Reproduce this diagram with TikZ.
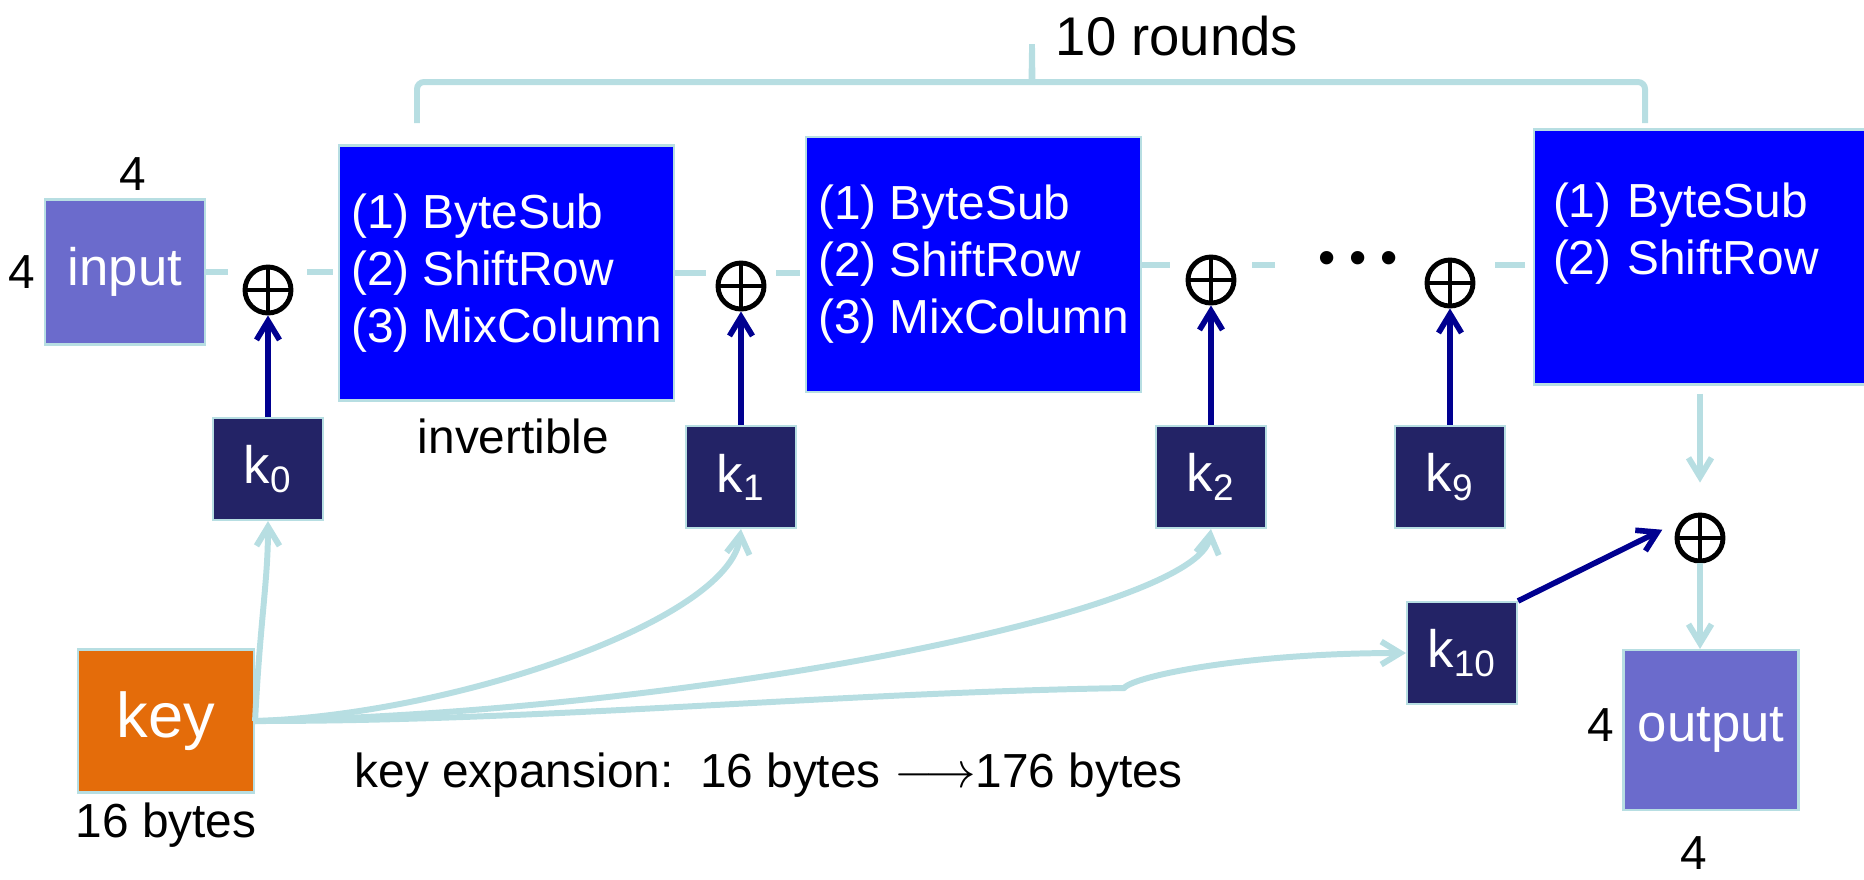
\documentclass[tikz,border=0pt]{standalone}
\usepackage{fontspec}
\setmainfont{Liberation Sans}
\usepackage{tikz}
\usetikzlibrary{arrows.meta,calc,positioning}
\definecolor{RoundBlue}{HTML}{0000FF}
\definecolor{KeyNavy}{HTML}{232366}
\definecolor{State}{HTML}{6B6BCC}
\definecolor{KeyOrange}{HTML}{E46C0A}
\definecolor{Pale}{HTML}{B7DEE2}
\definecolor{Ink}{HTML}{000090}

\begin{document}
\begin{tikzpicture}[
    roundbox/.style={fill=RoundBlue, draw=Pale, line width=0.6pt, text=white, align=left, minimum width=3.35cm, minimum height=2.55cm, font=\fontsize{13.6}{16.2}\selectfont},
    keybox/.style={fill=KeyNavy, draw=Pale, line width=0.6pt, text=white, minimum width=1.1cm, minimum height=1.02cm, inner sep=0pt, font=\fontsize{15}{18}\selectfont},
    statebox/.style={fill=State, draw=Pale, line width=0.6pt, text=white, inner sep=0pt, font=\fontsize{15}{18}\selectfont},
    xorop/.style={circle, draw, line width=1.4pt, minimum size=0.46cm, inner sep=0pt,
      path picture={\draw[line width=1.3pt] (path picture bounding box.north) -- (path picture bounding box.south)
        (path picture bounding box.west) -- (path picture bounding box.east);}},
    lbl/.style={inner sep=0.05cm, font=\fontsize{13.6}{15}\selectfont},
    flow/.style={draw=Pale, line width=1.7pt},
    flowarrow/.style={flow, -{Straight Barb[length=1.9mm, width=2.3mm]}},
    kick/.style={draw=Ink, line width=1.6pt, -{Straight Barb[length=1.9mm, width=2.3mm]}},
  ]
    \useasboundingbox (0,0) rectangle (18.64,-8.79);

    % state in
    \node[statebox, minimum width=1.6cm, minimum height=1.45cm] (in) at (1.25,-2.72) {input};
    \node[lbl, above=0.02cm of in, xshift=0.08cm] (inw) {4};
    \node[lbl, left=0.03cm of in] (inh) {4};

    % rounds
    \node[xorop] (x0) at (2.68,-2.90) {};
    \node[keybox] (k0) at (2.68,-4.69) {k\textsubscript{0}};
    \node[roundbox] (r1) at (5.065,-2.73) {(1) ByteSub\\(2) ShiftRow\\(3) MixColumn};
    \node[lbl, below=0.12cm of r1, xshift=0.07cm] (inv) {invertible};
    \node[xorop] (x1) at (7.41,-2.86) {};
    \node[keybox] (k1) at (7.41,-4.77) {k\textsubscript{1}};
    \node[roundbox] (r2) at (9.735,-2.645) {(1) ByteSub\\(2) ShiftRow\\(3) MixColumn};
    \node[xorop] (x2) at (12.11,-2.80) {};
    \node[keybox] (k2) at (12.11,-4.77) {k\textsubscript{2}};
    \node[font=\fontsize{14}{16}\selectfont, inner sep=0pt] (dots) at (13.58,-2.63) {• • •};
    \node[xorop] (x9) at (14.50,-2.83) {};
    \node[keybox] (k9) at (14.50,-4.77) {k\textsubscript{9}};
    \node[roundbox, text width=3.1cm, inner xsep=0.19cm] (r3) at (17.08,-2.57) {(1) ByteSub\\(2) ShiftRow\\\mbox{}};

    % last key
    \node[xorop] (x10) at (17.00,-5.38) {};
    \node[keybox] (k10) at (14.62,-6.53) {k\textsubscript{10}};

    % state out
    \node[statebox, minimum width=1.75cm, minimum height=1.6cm] (out) at (17.11,-7.30) {output};
    \node[lbl, left=0.03cm of out, yshift=0.05cm] (outh) {4};
    \node[lbl, below=0.2cm of out, xshift=-0.17cm] (outw) {4};

    % key
    \node[fill=KeyOrange, draw=Pale, line width=0.6pt, text=white, inner sep=0pt, minimum width=1.76cm, minimum height=1.43cm, font=\fontsize{18}{20}\selectfont] (key) at (1.66,-7.21) {key};
    \node[lbl, below=0.04cm of key] (keylen) {16 bytes};
    \node[lbl, anchor=west] (kexp) at (3.49,-7.75) {key expansion:\ \ 16 bytes $\longrightarrow$176 bytes};

    % brace over the rounds
    \draw[flow, rounded corners=0.07cm] (4.17,-1.23) |- (10.25,-0.82)
      .. controls (10.31,-0.82) and (10.32,-0.70) .. (10.32,-0.40)
      .. controls (10.32,-0.70) and (10.33,-0.82) .. (10.39,-0.82) -| (16.45,-1.23);
    \node[font=\fontsize{15.5}{18}\selectfont, inner sep=0pt] (rounds) at (11.77,-0.36) {10 rounds};

    % data path
    \draw[flow, shorten >=0.15cm] (in.east) -- (in.east -| x0.west);
    \draw[flow, shorten <=0.14cm, shorten >=0.05cm] (x0.east |- in.east) -- (r1.west |- in.east);
    \draw[flow, shorten >=0.1cm] (r1.east) -- (r1.east -| x1.west);
    \draw[flow, shorten <=0.1cm, shorten >=0.05cm] (x1.east |- r1.east) -- (r2.west |- r1.east);
    \draw[flow, shorten >=0.16cm] (r2.east) -- (r2.east -| x2.west);
    \coordinate (gapend) at (12.75,-2.63);
    \draw[flow, shorten <=0.16cm] (x2.east |- r2.east) -- (gapend |- r2.east);
    \draw[flow, shorten <=0.2cm, shorten >=0.08cm] (x9.east |- r2.east) -- (r3.west |- r2.east);
    \draw[flowarrow, shorten <=0.08cm, shorten >=0.3cm] (r3.south -| x10) -- (x10.north);
    \draw[flowarrow] (x10.south) -- (x10.south |- out.north);

    % round keys
    \draw[kick] (k0) -- (x0);
    \draw[kick] (k1) -- (x1);
    \draw[kick] (k2) -- (x2);
    \draw[kick] (k9) -- (x9);
    \draw[kick, shorten >=0.22cm] (k10.north east) -- (x10.north west);

    % key expansion
    \draw[flowarrow] (key.east) .. controls +(0.05,1.0) and +(0,-0.6) .. (k0.south);
    \draw[flowarrow] (key.east) .. controls +(1.96,0.06) and +(-0.11,-0.92) .. (k1.south);
    \draw[flowarrow] (key.east) .. controls +(4.46,0.09) and +(-0.12,-0.82) .. (k2.south);
    \coordinate (bump) at (11.24,-6.88);
    \draw[flowarrow] (key.east) .. controls +(3,0) and +(-3,-0.05) .. (bump)
      .. controls +(0.1,0.12) and +(-1.6,0) .. (k10.west);
  \end{tikzpicture}
\end{document}
